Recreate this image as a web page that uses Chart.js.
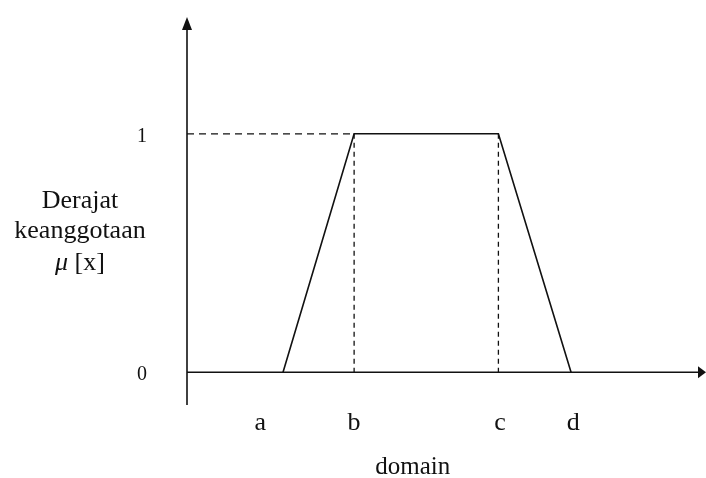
<!DOCTYPE html>
<html>
<head>
<meta charset="utf-8">
<script src="https://cdn.jsdelivr.net/npm/chart.js@4.4.0/dist/chart.umd.min.js"></script>
<style>
  html, body { margin: 0; padding: 0; background: #fff; overflow: hidden; }
  #wrap { width: 706px; height: 478px; position: relative; }
</style>
</head>
<body>
<div id="wrap"><canvas id="chart" width="706" height="478"></canvas></div>
<script>
// Trapezoidal membership function: rises from a to b, flat at 1 from b to c, falls to 0 at d.
const breakpointNames = ['a', 'b', 'c', 'd'];
const breakpoints = [1.85, 3.22, 6.0, 7.4];          // domain values of a, b, c, d
const membership = [0, 1, 1, 0];                     // degree of membership at a, b, c, d
const letterPositions = [1.41, 3.22, 6.03, 7.44];    // domain values where the letters a..d are written
const yTickValues = [0, 1];
const yTickLabels = ['0', '1'];

const SERIF = '"Liberation Serif", "DejaVu Serif", serif';
const INK = '#111';

const trapezoid = breakpoints.map((x, i) => ({ x, y: membership[i] }));
const bx = breakpoints[1], cx = breakpoints[2];
const guideTop = [{ x: 0, y: 1 }, { x: bx, y: 1 }];
const guideB = [{ x: bx, y: 1 }, { x: bx, y: 0 }];
const guideC = [{ x: cx, y: 1 }, { x: cx, y: 0 }];

// Axis lines with filled arrowheads, drawn through the scales
const arrowAxes = {
  id: 'arrowAxes',
  afterDatasetsDraw(chart) {
    const { ctx, chartArea, scales: { x, y } } = chart;
    const x0 = x.getPixelForValue(0);
    const y0 = y.getPixelForValue(0);
    const yTop = y.getPixelForValue(y.max);
    const xEnd = x.getPixelForValue(x.max);
    ctx.save();
    ctx.strokeStyle = INK;
    ctx.fillStyle = INK;
    ctx.lineWidth = 1.6;
    // vertical axis
    ctx.beginPath();
    ctx.moveTo(x0, chartArea.bottom + 3);
    ctx.lineTo(x0, yTop + 10);
    ctx.stroke();
    ctx.beginPath();
    ctx.moveTo(x0, yTop);
    ctx.lineTo(x0 - 5, yTop + 13);
    ctx.lineTo(x0 + 5, yTop + 13);
    ctx.closePath();
    ctx.fill();
    // horizontal axis
    ctx.beginPath();
    ctx.moveTo(x0, y0);
    ctx.lineTo(xEnd - 6, y0);
    ctx.stroke();
    ctx.beginPath();
    ctx.moveTo(xEnd, y0);
    ctx.lineTo(xEnd - 8, y0 - 6);
    ctx.lineTo(xEnd - 8, y0 + 6);
    ctx.closePath();
    ctx.fill();
    ctx.restore();
  }
};

// Axis captions
const captions = {
  id: 'captions',
  afterDraw(chart) {
    const { ctx, scales: { x } } = chart;
    ctx.save();
    ctx.fillStyle = INK;
    ctx.textAlign = 'center';
    ctx.textBaseline = 'alphabetic';
    ctx.font = '26px ' + SERIF;
    ctx.fillText('Derajat', 80, 208);
    ctx.fillText('keanggotaan', 80, 238);
    // μ [x]
    ctx.font = 'italic 26px ' + SERIF;
    const mu = 'μ';
    const muW = ctx.measureText(mu).width;
    ctx.font = '26px ' + SERIF;
    const rest = ' [x]';
    const restW = ctx.measureText(rest).width;
    const start = 80 - (muW + restW) / 2;
    ctx.textAlign = 'left';
    ctx.font = 'italic 26px ' + SERIF;
    ctx.fillText(mu, start, 270);
    ctx.font = '26px ' + SERIF;
    ctx.fillText(rest, start + muW, 270);
    // domain label under the axis letters
    ctx.textAlign = 'center';
    ctx.font = '25px ' + SERIF;
    ctx.fillText('domain', x.getPixelForValue(4.35), 474);
    ctx.restore();
  }
};

new Chart(document.getElementById('chart'), {
  type: 'scatter',
  data: {
    datasets: [
      { data: trapezoid, showLine: true, borderColor: INK, borderWidth: 1.6, pointRadius: 0, fill: false },
      { data: guideTop, showLine: true, borderColor: INK, borderWidth: 1.3, borderDash: [7, 5], pointRadius: 0, fill: false },
      { data: guideB, showLine: true, borderColor: INK, borderWidth: 1.3, borderDash: [5, 4], pointRadius: 0, fill: false },
      { data: guideC, showLine: true, borderColor: INK, borderWidth: 1.3, borderDash: [5, 4], pointRadius: 0, fill: false }
    ]
  },
  options: {
    responsive: false,
    devicePixelRatio: 1,
    animation: false,
    events: [],
    layout: { padding: { top: 17, right: 0, bottom: 0, left: 0 } },
    plugins: { legend: { display: false }, tooltip: { enabled: false }, title: { display: false } },
    scales: {
      x: {
        type: 'linear',
        min: 0,
        max: 10,
        grid: { display: false, drawTicks: false },
        border: { display: false },
        afterBuildTicks(scale) { scale.ticks = letterPositions.map(v => ({ value: v })); },
        afterFit(scale) {
          scale.height = 76;
          scale.paddingLeft = 0;
          scale.paddingRight = 0;
        },
        ticks: {
          autoSkip: false,
          maxRotation: 0,
          padding: 6,
          color: INK,
          font: { family: SERIF, size: 26 },
          callback: (v, i) => breakpointNames[i]
        }
      },
      y: {
        type: 'linear',
        min: -0.125,
        max: 1.49,
        grid: { display: false, drawTicks: false },
        border: { display: false },
        afterBuildTicks(scale) { scale.ticks = yTickValues.map(v => ({ value: v })); },
        afterFit(scale) {
          scale.width = 187;
          scale.paddingTop = 0;
          scale.paddingBottom = 0;
        },
        ticks: {
          autoSkip: false,
          padding: 40,
          labelOffset: 3,
          color: INK,
          font: { family: SERIF, size: 20 },
          callback: (v, i) => yTickLabels[i]
        }
      }
    }
  },
  plugins: [arrowAxes, captions]
});
</script>
</body>
</html>
